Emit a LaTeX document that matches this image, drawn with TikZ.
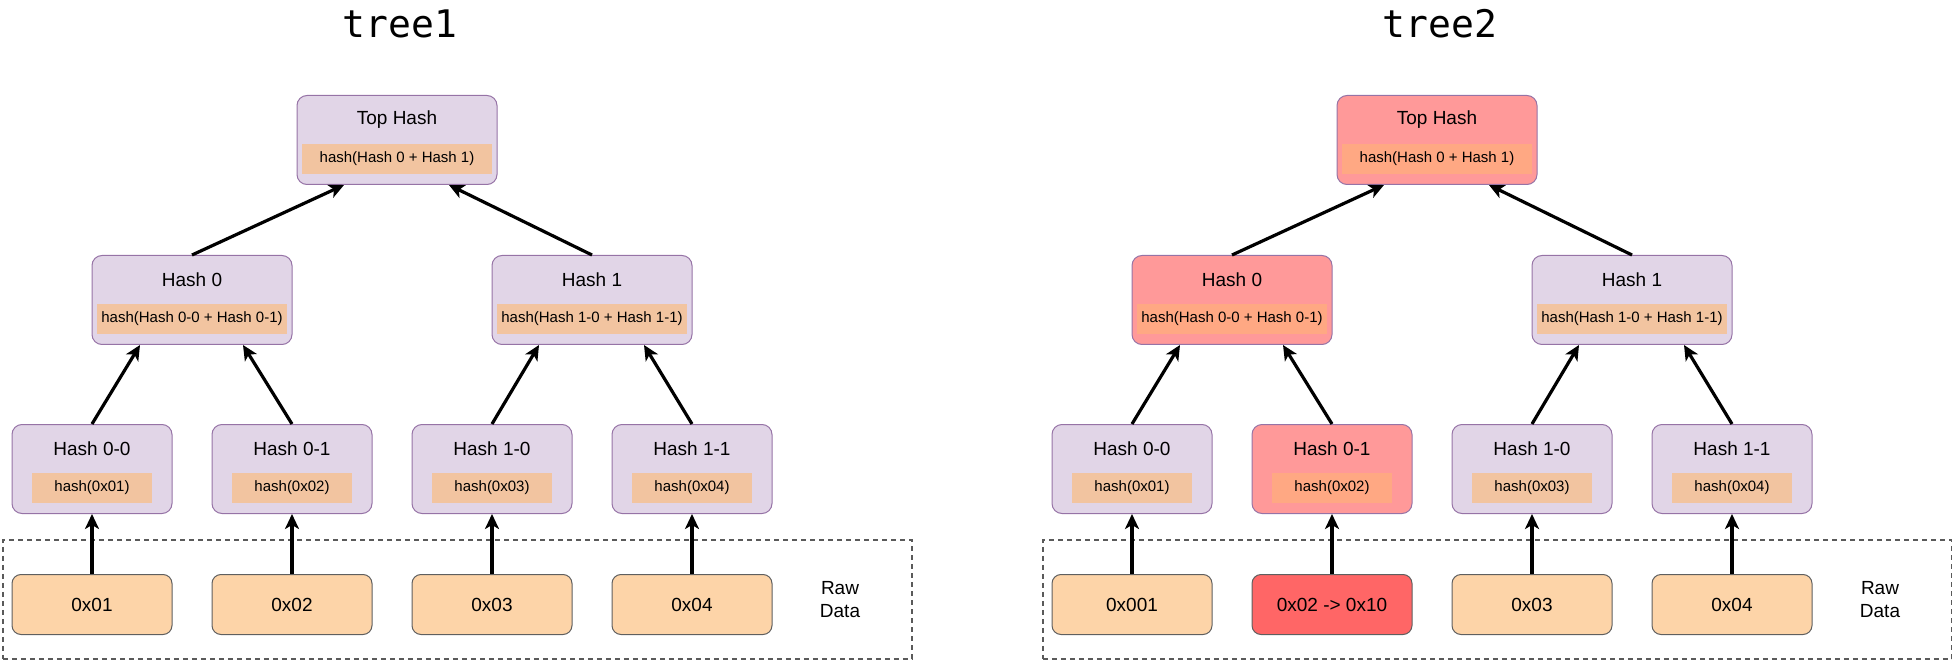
\documentclass[tikz,border=0pt]{standalone}
\usepackage{fontspec}
\setmainfont{Liberation Sans}
\newfontfamily\monof{DejaVu Sans Mono}
\usetikzlibrary{arrows.meta}
\definecolor{pfill}{HTML}{E1D5E7}
\definecolor{pdraw}{HTML}{9673A6}
\definecolor{ifill}{HTML}{F2C4A0}
\definecolor{rfill}{HTML}{FF9999}
\definecolor{rifill}{HTML}{FFA883}
\definecolor{rawfill}{HTML}{FDD4A8}
\definecolor{rawdraw}{HTML}{5F5F5F}
\definecolor{rawred}{HTML}{FF6666}
\definecolor{dashgray}{HTML}{5A5A5A}
\tikzset{
  hboxP/.style={draw=pdraw, fill=pfill, rounded corners=10pt, line width=1pt, minimum height=89pt, inner sep=0pt},
  hboxR/.style={hboxP, fill=rfill},
  hinnerP/.style={fill=ifill, minimum height=30pt, inner sep=0pt, font=\fontsize{15}{18}\selectfont},
  hinnerR/.style={hinnerP, fill=rifill},
  htitle/.style={inner sep=0pt, font=\fontsize{19}{22}\selectfont},
  rawbox/.style={draw=rawdraw, fill=rawfill, rounded corners=9pt, line width=1pt, minimum width=160pt, minimum height=60pt, inner sep=0pt, anchor=north, font=\fontsize{19}{22}\selectfont},
  rawboxred/.style={rawbox, fill=rawred},
  dashbox/.style={draw=dashgray, line width=1.8pt, dash pattern=on 5pt off 4pt, inner sep=0pt, anchor=north west},
  arr/.style={line width=3.2pt, -{Stealth[length=15pt, width=14pt, inset=4pt]}},
  ttl/.style={inner sep=0pt, anchor=base, font=\monof\fontsize{38}{40}\selectfont},
  rawlbl/.style={align=center, inner sep=0pt, font=\fontsize{19}{23}\selectfont}
}
\newcommand{\mkhash}[8]{%
  \node[hbox#8, minimum width=#4pt, anchor=north] (#1) at (#2,#3) {};
  \node[htitle] (#1t) at ([yshift=-25pt]#1.north) {#6};
  \node[hinner#8, minimum width=#5pt] (#1f) at ([yshift=-64pt]#1.north) {#7};
}
\begin{document}
\begin{tikzpicture}[x=1pt, y=-1pt]
\useasboundingbox (0,0) rectangle (1952,660);

% ---------- tree1 ----------
\node[ttl] (t1) at (400,38) {tree1};
\node[dashbox, minimum width=909pt, minimum height=119pt] (Lgrp) at (2,539) {};
\mkhash{Ltop}{397}{95}{200}{190}{Top Hash}{hash(Hash 0 + Hash 1)}{P}
\mkhash{L0}{192}{255}{200}{190}{Hash 0}{hash(Hash 0-0 + Hash 0-1)}{P}
\mkhash{L1}{592}{255}{200}{190}{Hash 1}{hash(Hash 1-0 + Hash 1-1)}{P}
\mkhash{L00}{92}{424}{160}{120}{Hash 0-0}{hash(0x01)}{P}
\mkhash{L01}{292}{424}{160}{120}{Hash 0-1}{hash(0x02)}{P}
\mkhash{L10}{492}{424}{160}{120}{Hash 1-0}{hash(0x03)}{P}
\mkhash{L11}{692}{424}{160}{120}{Hash 1-1}{hash(0x04)}{P}
\node[rawbox] (Lr1) at (92,574) {0x01};
\node[rawbox] (Lr2) at (292,574) {0x02};
\node[rawbox] (Lr3) at (492,574) {0x03};
\node[rawbox] (Lr4) at (692,574) {0x04};
\node[rawlbl] (Lraw) at (840,600) {Raw\\Data};

\draw[arr] (Lr1.north) -- (L00.south);
\draw[arr] (Lr2.north) -- (L01.south);
\draw[arr] (Lr3.north) -- (L10.south);
\draw[arr] (Lr4.north) -- (L11.south);
\draw[arr] (L00.north) -- ([xshift=-52pt]L0.south);
\draw[arr] (L01.north) -- ([xshift=51pt]L0.south);
\draw[arr] (L10.north) -- ([xshift=-53pt]L1.south);
\draw[arr] (L11.north) -- ([xshift=52pt]L1.south);
\draw[arr] (L0.north) -- ([xshift=-53pt]Ltop.south);
\draw[arr] (L1.north) -- ([xshift=52pt]Ltop.south);

% ---------- tree2 ----------
\node[ttl] (t2) at (1440,38) {tree2};
\node[dashbox, minimum width=909pt, minimum height=119pt] (Rgrp) at (1042,539) {};
\mkhash{Rtop}{1437}{95}{200}{190}{Top Hash}{hash(Hash 0 + Hash 1)}{R}
\mkhash{R0}{1232}{255}{200}{190}{Hash 0}{hash(Hash 0-0 + Hash 0-1)}{R}
\mkhash{R1}{1632}{255}{200}{190}{Hash 1}{hash(Hash 1-0 + Hash 1-1)}{P}
\mkhash{R00}{1132}{424}{160}{120}{Hash 0-0}{hash(0x01)}{P}
\mkhash{R01}{1332}{424}{160}{120}{Hash 0-1}{hash(0x02)}{R}
\mkhash{R10}{1532}{424}{160}{120}{Hash 1-0}{hash(0x03)}{P}
\mkhash{R11}{1732}{424}{160}{120}{Hash 1-1}{hash(0x04)}{P}
\node[rawbox] (Rr1) at (1132,574) {0x001};
\node[rawboxred] (Rr2) at (1332,574) {0x02 -> 0x10};
\node[rawbox] (Rr3) at (1532,574) {0x03};
\node[rawbox] (Rr4) at (1732,574) {0x04};
\node[rawlbl] (Rraw) at (1880,600) {Raw\\Data};

\draw[arr] (Rr1.north) -- (R00.south);
\draw[arr] (Rr2.north) -- (R01.south);
\draw[arr] (Rr3.north) -- (R10.south);
\draw[arr] (Rr4.north) -- (R11.south);
\draw[arr] (R00.north) -- ([xshift=-52pt]R0.south);
\draw[arr] (R01.north) -- ([xshift=51pt]R0.south);
\draw[arr] (R10.north) -- ([xshift=-53pt]R1.south);
\draw[arr] (R11.north) -- ([xshift=52pt]R1.south);
\draw[arr] (R0.north) -- ([xshift=-53pt]Rtop.south);
\draw[arr] (R1.north) -- ([xshift=52pt]Rtop.south);
\end{tikzpicture}
\end{document}
